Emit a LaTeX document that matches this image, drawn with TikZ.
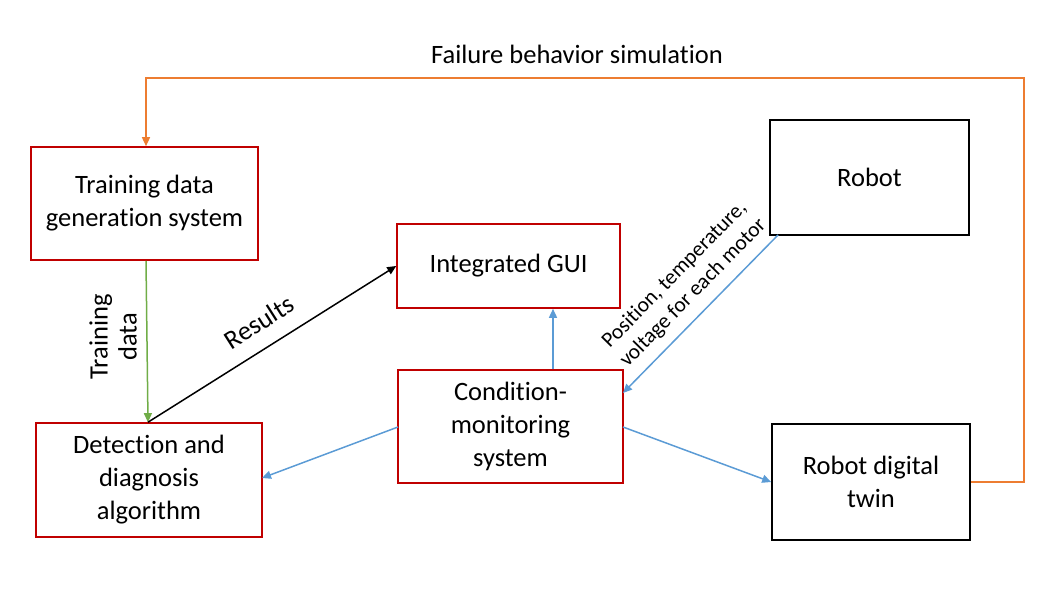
\documentclass[tikz,border=0pt]{standalone}
\usepackage{fontspec}
\setmainfont{Carlito}[Ligatures=NoCommon]
\usetikzlibrary{arrows.meta}
\definecolor{boxred}{RGB}{192,0,0}
\definecolor{lblue}{RGB}{91,155,213}
\definecolor{lorange}{RGB}{237,125,49}
\definecolor{lgreen}{RGB}{112,173,71}
\tikzset{
  redbox/.style={draw=boxred, line width=1.6pt, fill=white, align=center, inner sep=0pt},
  blackbox/.style={draw=black, line width=1.6pt, fill=white, align=center, inner sep=0pt},
  arr/.style={line width=1.5pt, -{Triangle[length=9pt,width=8pt]}},
}
\begin{document}
\begin{tikzpicture}[x=1pt,y=-1pt,font=\fontsize{26.5}{33}\selectfont]
\useasboundingbox (0,0) rectangle (1053,604);
\node[redbox, minimum width=227pt, minimum height=113pt] (tdg) at (144.5,203.5) {Training data\\generation system};
\node[redbox, minimum width=223pt, minimum height=84pt] (gui) at (508.5,266) {Integrated GUI};
\node[blackbox, minimum width=199pt, minimum height=115pt] (robot) at (869.5,177.5) {Robot};
\node[redbox, minimum width=225pt, minimum height=113pt] (cms) at (510.5,426.5) {Condition-\\monitoring\\system};
\node[redbox, minimum width=226pt, minimum height=114pt] (dda) at (149,480) {Detection and\\diagnosis\\algorithm};
\node[blackbox, minimum width=198pt, minimum height=116pt] (twin) at (871,482) {Robot digital\\twin};

\coordinate (o1) at (1024,482);
\coordinate (o2) at (1024,78);
\coordinate (o3) at (146,78);
\draw[arr, lorange] (twin.east) -- (o1) -- (o2) -- (o3) -- (tdg.north -| o3);
\node at (577,54) {Failure behavior simulation};

\coordinate (g0) at (146,0);
\coordinate (g2) at (148,0);
\draw[arr, lgreen] (tdg.south -| g0) -- (dda.north -| g2);
\node[rotate=90, align=center, font=\fontsize{26.5}{29}\selectfont] at (113,337) {Training\\data};

\draw[arr, black] (dda.north -| g2) -- (gui.west);
\node[rotate=32.5] at (259,322) {Results};

\coordinate (b0) at (553,0);
\draw[arr, lblue] (cms.north -| b0) -- (gui.south -| b0);
\coordinate (r1) at (778,235);
\coordinate (r2) at (623,393);
\draw[arr, lblue] (r1) -- (r2);
\node[rotate=45.5, align=center, font=\fontsize{21.5}{26}\selectfont] at (684,284) {Position, temperature,\\voltage for each motor};
\coordinate (c1) at (398,427);
\coordinate (d1) at (262,478);
\draw[arr, lblue] (c1) -- (d1);
\coordinate (c2) at (623,427);
\draw[arr, lblue] (c2) -- (twin.west);
\end{tikzpicture}
\end{document}
